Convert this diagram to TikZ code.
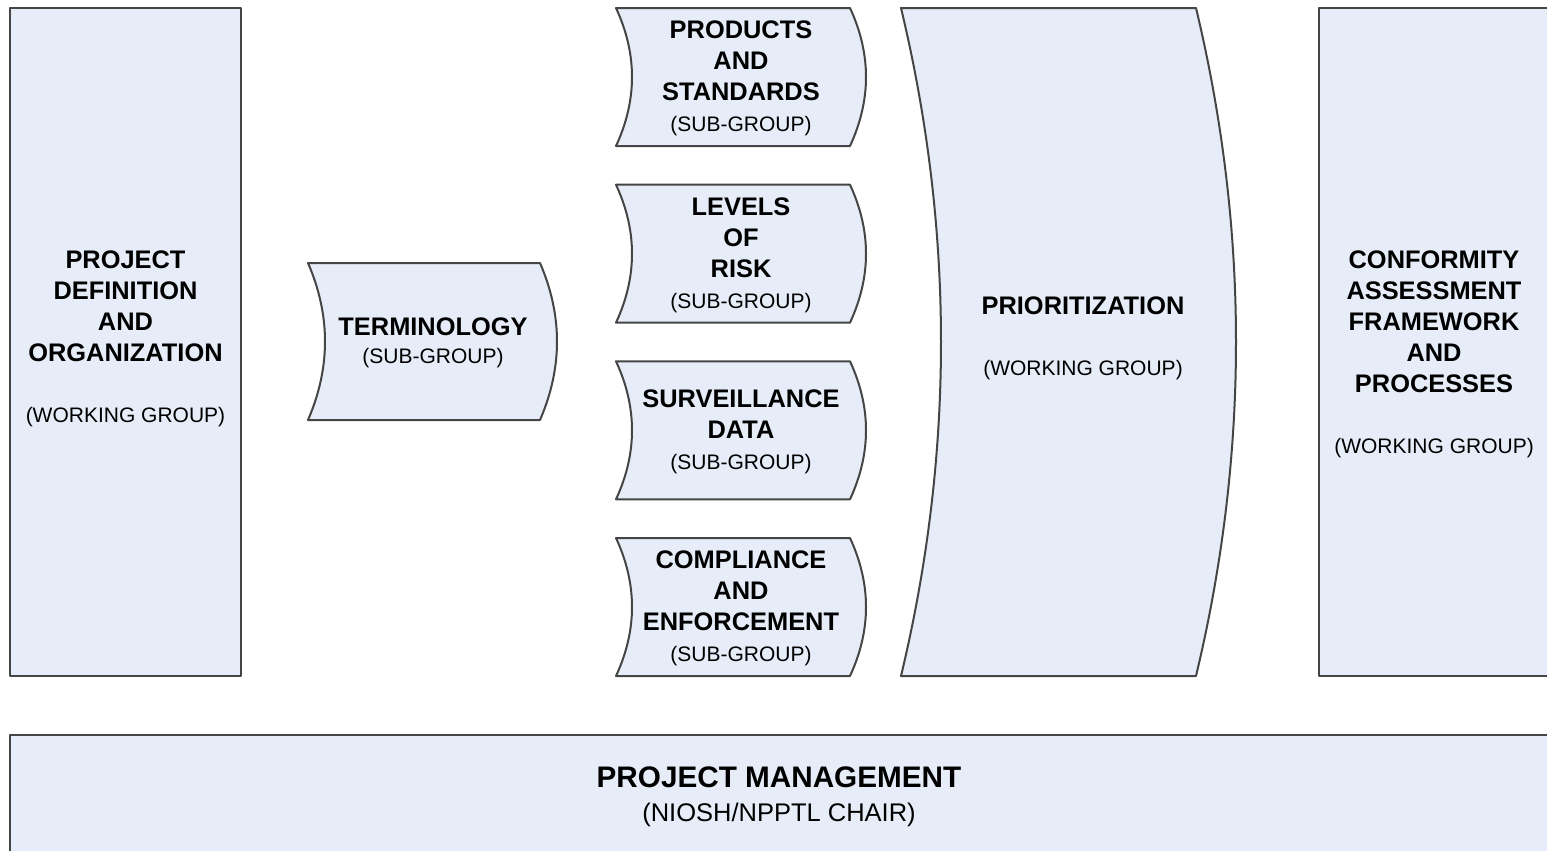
\documentclass[tikz,border=0pt]{standalone}
\usepackage{fontspec}
\setmainfont{Liberation Sans}
\usepackage{tikz}

\definecolor{grpfill}{HTML}{E6EDF8}
\definecolor{grpline}{HTML}{454545}

\newcommand{\hd}{\fontsize{12.7}{15.5}\bfseries\selectfont}
\newcommand{\sg}{\fontsize{10.5}{15.5}\mdseries\selectfont}
% curved block: x0, y0, x1, y1, bulge of both sides to the right
\newcommand{\tabblock}[5]{%
	\draw[grp] (#1,#2) -- (#3,#2)
		.. controls ({#3+1.333*#5},{#2+(#4-#2)/3}) and ({#3+1.333*#5},{#4-(#4-#2)/3}) .. (#3,#4)
		-- (#1,#4)
		.. controls ({#1+1.333*#5},{#4-(#4-#2)/3}) and ({#1+1.333*#5},{#2+(#4-#2)/3}) .. (#1,#2) -- cycle;}

\begin{document}
\begin{tikzpicture}[x=0.5pt,y=-0.5pt,
		grp/.style={draw=grpline, fill=grpfill, line width=1pt, line join=round},
		lbl/.style={align=center, font=\hd, inner sep=0pt}]
	\useasboundingbox (0,0) rectangle (1547,851);
	\clip (0,0) rectangle (1547,851);

	% working groups
	\node[grp, minimum width=115.5pt, minimum height=334pt] (pdo) at (125.5,342) {};
	\node[lbl] (pdot) at (125.5,339)
		{PROJECT\\DEFINITION\\AND\\ORGANIZATION\\[15pt]{\sg (WORKING GROUP)}};
	\node[grp, minimum width=115pt, minimum height=334pt] (cafp) at (1434,342) {};
	\node[lbl] (cafpt) at (1434,354)
		{CONFORMITY\\ASSESSMENT\\FRAMEWORK\\AND\\PROCESSES\\[15pt]{\sg (WORKING GROUP)}};

	% sub-groups
	\tabblock{308}{263}{540}{420}{17}
	\node[lbl] (term) at (433,343) {TERMINOLOGY\\[-1.5pt]{\sg (SUB-GROUP)}};

	\tabblock{616}{8}{850}{146}{16}
	\node[lbl] (prod) at (741,78.5) {PRODUCTS\\AND\\STANDARDS\\{\sg (SUB-GROUP)}};
	\tabblock{616}{184.7}{850}{322.7}{16}
	\node[lbl] (risk) at (741,255.5) {LEVELS\\OF\\RISK\\{\sg (SUB-GROUP)}};
	\tabblock{616}{361.3}{850}{499.3}{16}
	\node[lbl] (surv) at (741,432) {SURVEILLANCE\\DATA\\{\sg (SUB-GROUP)}};
	\tabblock{616}{538}{850}{676}{16}
	\node[lbl] (comp) at (741,608) {COMPLIANCE\\AND\\ENFORCEMENT\\{\sg (SUB-GROUP)}};

	% prioritization
	\tabblock{901}{8}{1196}{676}{40}
	\node[lbl] (prio) at (1083,338.5) {PRIORITIZATION\\[15pt]{\sg (WORKING GROUP)}};

	% project management
	\node[grp, minimum width=769pt, minimum height=59pt] (pm) at (779,794) {};
	\node[lbl, font=\fontsize{14.85}{17}\bfseries\selectfont] (pmt) at (779,796.5)
		{PROJECT MANAGEMENT\\{\fontsize{12.75}{17}\mdseries\selectfont (NIOSH/NPPTL CHAIR)}};
\end{tikzpicture}
\end{document}
